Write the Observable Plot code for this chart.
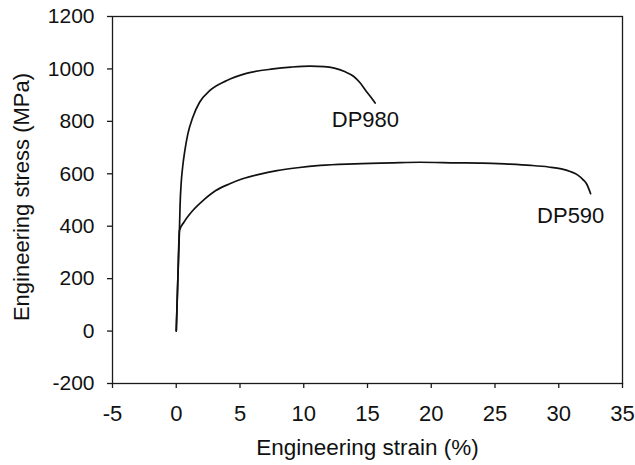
<!DOCTYPE html>
<html>
<head>
<meta charset="utf-8">
<script src="https://cdn.jsdelivr.net/npm/d3@7"></script>
<script src="https://cdn.jsdelivr.net/npm/@observablehq/plot@0.6"></script>
<style>
  html, body { margin: 0; padding: 0; background: #fff; }
  #chart svg [aria-label="x-axis tick label"] { font-size: 22px; }
  #chart svg [aria-label="y-axis tick label"] { font-size: 21px; }
</style>
</head>
<body>
<div id="chart"></div>
<script>
// DP980 curve: engineering strain (%) and stress (MPa)
const dp980Strain = [0, 0.12, 0.25, 0.3, 0.38, 0.5, 0.68, 0.91, 1.3, 1.83, 2.62, 3.93, 5.5, 7.6, 9.0, 10.5, 11.6, 12.4, 13.2, 13.9, 14.4, 14.9, 15.3, 15.6];
const dp980Stress = [0, 190, 384, 480, 560, 625, 690, 752, 816, 873, 917, 955, 983, 1000, 1007, 1011, 1009, 1003, 990, 972, 948, 915, 890, 870];

// DP590 curve
const dp590Strain = [0, 0.12, 0.25, 0.6, 1.3, 2.2, 3.1, 4.2, 5.2, 6.5, 7.9, 9.5, 11.3, 14, 17, 19.1, 22, 24, 26, 27.8, 29.2, 30.2, 30.9, 31.5, 31.9, 32.2, 32.5];
const dp590Stress = [0, 190, 384, 415, 460, 502, 536, 562, 581, 598, 612, 623, 632, 638, 642, 644, 642, 641, 637, 632, 626, 619, 609, 595, 578, 560, 524];

// Tick values
const xTicks = [-5, 0, 5, 10, 15, 20, 25, 30, 35];
const yTicks = [-200, 0, 200, 400, 600, 800, 1000, 1200];

// Curve labels
const labelNames = ["DP980", "DP590"];
const labelStrain = [12.2, 28.3];
const labelStress = [806, 438];

const xTitle = "Engineering strain (%)";
const yTitle = "Engineering stress (MPa)";

const series = [
  ...dp980Strain.map((x, i) => ({grade: "DP980", x, y: dp980Stress[i]})),
  ...dp590Strain.map((x, i) => ({grade: "DP590", x, y: dp590Stress[i]}))
];
const labels = labelNames.map((name, i) => ({name, x: labelStrain[i], y: labelStress[i]}));

const font = "'Liberation Sans', Arial, 'DejaVu Sans', sans-serif";

const chart = Plot.plot({
  width: 635,
  height: 465,
  marginLeft: 112,
  marginRight: 13,
  marginTop: 16,
  marginBottom: 82,
  style: {fontFamily: font, fontSize: "21px", color: "#111", background: "#fff"},
  x: {domain: [-5, 35]},
  y: {domain: [-200, 1200]},
  marks: [
    Plot.frame({stroke: "#1a1a1a", strokeWidth: 1.3}),
    Plot.axisX({ticks: xTicks, tickSize: 5, tickPadding: 17, tickFormat: d => `${d}`, label: null, stroke: "#1a1a1a", strokeWidth: 1.3}),
    Plot.axisY({ticks: yTicks, tickSize: 5, tickPadding: 13, tickFormat: d => `${d}`, label: null, stroke: "#1a1a1a", strokeWidth: 1.3}),
    Plot.line(series, {x: "x", y: "y", z: "grade", stroke: "#111", strokeWidth: 1.7, curve: "monotone-x"}),
    Plot.text(labels, {x: "x", y: "y", text: "name", textAnchor: "start", lineAnchor: "middle", fontSize: 22, fill: "#111"}),
    Plot.text([xTitle], {frameAnchor: "bottom", dy: 64, textAnchor: "middle", lineAnchor: "middle", fontSize: 22.5, fill: "#111"}),
    Plot.text([yTitle], {frameAnchor: "left", dx: -90.5, dy: -3, rotate: -90, textAnchor: "middle", lineAnchor: "middle", fontSize: 22, fill: "#111"})
  ]
});
document.getElementById("chart").appendChild(chart);
</script>
</body>
</html>
